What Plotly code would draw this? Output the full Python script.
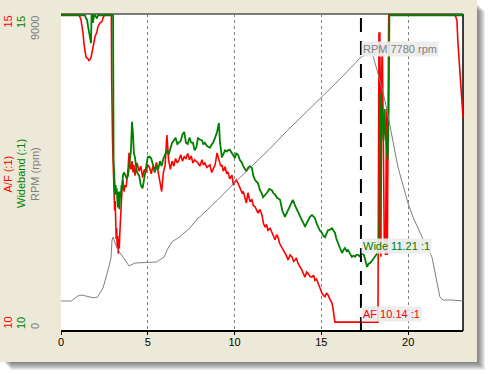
import plotly.graph_objects as go

# ---------------- data ----------------
X_RANGE = [0, 23.16]
X_TICKS = [0, 5, 10, 15, 20]
X_TICK_TEXT = ["0", "5", "10", "15", "20"]

AF_RANGE = [10, 15]
WB_RANGE = [10, 15]
RPM_RANGE = [0, 9000]

AXIS_TITLES = ["A/F (:1)", "Wideband (:1)", "RPM (rpm)"]
AXIS_TOP_LABELS = ["15", "15", "9000"]
AXIS_BOTTOM_LABELS = ["10", "10", "0"]

CURSOR_T = 17.28
CURSOR_LABELS = ["AF 10.14 :1", "Wide 11.21 :1", "RPM 7780 rpm"]
CURSOR_VALUES = [10.14, 11.21, 7780]

AF_TIME = [
    0, 0.5, 1.04, 1.15, 1.21, 1.27, 1.32, 1.38, 1.44, 1.56,
    1.61, 1.73, 1.79, 1.84, 1.96, 2.07, 2.13, 2.25, 2.36, 2.42,
    2.53, 2.88,
    2.90, 2.92, 2.94, 2.97, 3.00, 3.03, 3.06, 3.09, 3.12, 3.15,
    3.18, 3.21, 3.24, 3.27, 3.30, 3.33, 3.36, 3.39, 3.42, 3.45,
    3.48, 3.51, 3.54, 3.57,
    3.63, 3.69, 3.75, 3.80, 3.86, 3.92, 3.97, 4.03, 4.09, 4.15,
    4.20, 4.26, 4.32, 4.38, 4.5, 4.6, 4.7, 4.8, 4.9, 5.0,
    5.1, 5.2, 5.3, 5.4, 5.5, 5.6, 5.7, 5.8, 5.9, 6.0,
    6.1, 6.2, 6.3, 6.4, 6.5, 6.6, 6.7, 6.8, 6.9, 7.0,
    7.1, 7.2, 7.3, 7.4, 7.5, 7.6, 7.7,
    7.8, 7.89, 8.0, 8.12, 8.2, 8.29, 8.4, 8.58, 8.68, 8.76,
    8.88, 8.99, 9.10, 9.2, 9.27, 9.36, 9.45, 9.55, 9.62, 9.72,
    9.85, 9.93, 10.02, 10.1, 10.20, 10.3, 10.43, 10.5, 10.60, 10.68,
    10.77, 10.88, 11.00, 11.08, 11.18, 11.26, 11.35, 11.45, 11.58, 11.66,
    11.75, 11.84, 11.92, 12.05, 12.15, 12.25, 12.33, 12.42, 12.50, 12.6,
    12.73, 12.82, 12.90, 13.0, 13.08, 13.2, 13.31, 13.4, 13.48, 13.56,
    13.65, 13.76, 13.88, 13.97, 14.06, 14.15, 14.23, 14.35, 14.46, 14.55,
    14.63, 14.72, 14.80, 14.92, 15.03, 15.12, 15.21, 15.3, 15.38, 15.5,
    15.61, 15.67, 15.72, 15.78, 18.26,
    18.28, 18.32, 18.37, 18.43, 18.47, 18.51, 18.57, 18.63, 18.70, 18.75,
    18.80, 18.85, 18.88, 22.70, 22.81, 22.87, 22.98, 23.04, 23.10, 23.16,
]
AF_VALUE = [
    14.99, 14.99, 14.99, 14.91, 14.83, 14.7, 14.54, 14.4, 14.32, 14.29,
    14.26, 14.31, 14.39, 14.5, 14.64, 14.72, 14.8, 14.86, 14.88, 14.94,
    14.99, 14.99,
    14.99, 13.96, 13.2, 13.0, 12.7, 12.4, 12.18, 11.9, 12.05, 11.7,
    11.45, 11.62, 11.3, 11.5, 11.22, 11.45, 11.3, 11.55, 11.8, 11.75,
    12.0, 12.2, 12.35, 12.38,
    12.2, 12.3, 12.27, 12.4, 12.54, 12.81, 12.6, 12.55, 12.68, 12.5,
    12.62, 12.45, 12.58, 12.65, 12.52, 12.6, 12.42, 12.55, 12.5, 12.62,
    12.58, 12.48, 12.6, 12.55, 12.66, 12.5, 12.35, 12.2, 12.5, 12.62,
    13.09, 12.7, 12.55, 12.68, 12.6, 12.72, 12.65, 12.7, 12.78, 12.68,
    12.75, 12.72, 12.8, 12.7, 12.76, 12.65, 12.7,
    12.68, 12.65, 12.6, 12.70, 12.62, 12.65, 12.58, 12.62, 12.5, 12.54,
    12.62, 12.81, 12.70, 12.6, 12.62, 12.52, 12.59, 12.48, 12.51, 12.4,
    12.46, 12.3, 12.35, 12.38, 12.33, 12.25, 12.18, 12.2, 12.11, 12.02,
    12.18, 12.05, 12.07, 11.98, 11.96, 11.9, 11.86, 11.92, 11.83, 11.7,
    11.64, 11.68, 11.59, 11.62, 11.55, 11.5, 11.44, 11.52, 11.48, 11.38,
    11.32, 11.28, 11.23, 11.18, 11.12, 11.2, 11.17, 11.1, 11.12, 11.15,
    11.07, 11.02, 10.96, 10.9, 10.85, 10.93, 10.91, 10.86, 10.85, 10.88,
    10.80, 10.82, 10.76, 10.7, 10.6, 10.56, 10.54, 10.6, 10.57, 10.5,
    10.44, 10.36, 10.25, 10.14, 10.14,
    12.2, 14.7, 14.7, 11.17, 14.0, 14.5, 13.0, 11.3, 11.2, 13.5,
    11.2, 13.0, 14.99, 14.99, 14.9, 14.54, 14.1, 13.95, 13.69, 13.37,
]

WB_TIME = [
    0, 1.38, 1.44, 1.50, 1.56, 1.61, 1.67, 1.73, 1.76, 1.79,
    1.84, 1.90, 1.96, 2.07, 2.13, 2.19, 2.88,
    2.90, 2.97, 3.00, 3.03, 3.06, 3.09, 3.12, 3.15, 3.18, 3.21,
    3.24, 3.27, 3.30, 3.33, 3.36, 3.39, 3.42, 3.45, 3.48, 3.51,
    3.54, 3.57,
    3.63, 3.69, 3.75, 3.80, 3.86, 3.92, 3.97, 4.03, 4.09, 4.15,
    4.20, 4.26, 4.32, 4.38, 4.5, 4.6, 4.7, 4.8, 4.9, 5.0,
    5.1, 5.2, 5.3, 5.4, 5.5, 5.6, 5.7, 5.8, 5.9, 6.0,
    6.1, 6.2, 6.3, 6.4, 6.5, 6.6, 6.7, 6.8, 6.9, 7.0,
    7.1, 7.2, 7.3, 7.4, 7.5, 7.6, 7.7,
    7.8, 7.89, 8.0, 8.12, 8.2, 8.29, 8.4, 8.58, 8.68, 8.76,
    8.88, 8.99, 9.10, 9.16, 9.27, 9.36, 9.45, 9.55, 9.62, 9.72,
    9.85, 9.93, 10.02, 10.1, 10.20, 10.3, 10.43, 10.5, 10.60, 10.68,
    10.77, 10.88, 11.00, 11.08, 11.18, 11.26, 11.35, 11.46, 11.55, 11.64,
    11.75, 11.87, 12.0, 12.15, 12.25, 12.33, 12.45, 12.62, 12.75, 12.90,
    13.0, 13.08, 13.2, 13.36, 13.48, 13.59, 13.7, 13.88, 13.97, 14.06,
    14.15, 14.23, 14.35, 14.46, 14.55, 14.63, 14.72, 14.80, 14.92, 15.03,
    15.12, 15.21, 15.3, 15.38, 15.5, 15.61, 15.7, 15.78, 15.87, 15.96,
    16.08, 16.19, 16.28, 16.36, 16.45, 16.53, 16.65, 16.76, 16.85, 16.94,
    17.02, 17.11, 17.2, 17.28, 17.37, 17.45, 17.55, 17.63, 17.72, 17.80,
    17.95, 18.09, 18.2, 18.32,
    18.36, 18.40, 18.46, 18.52, 18.58, 18.64, 18.70, 18.76, 18.82, 18.88,
    18.92, 23.16,
]
WB_VALUE = [
    14.98, 14.98, 14.93, 14.91, 14.8, 14.72, 14.64, 14.54, 14.98, 14.98,
    14.86, 14.98, 14.98, 14.93, 14.98, 14.98, 14.98,
    14.98, 14.98, 14.98, 12.7, 12.5, 12.27, 12.15, 12.3, 12.2, 12.25,
    12.05, 11.95, 12.05, 12.2, 11.92, 12.05, 12.2, 12.12, 12.3, 12.22,
    12.38, 12.46,
    12.5, 12.46, 12.43, 12.4, 12.45, 12.65, 12.7, 12.85, 13.3, 13.1,
    12.8, 12.74, 12.6, 12.5, 12.45, 12.3, 12.25, 12.4, 12.55, 12.74,
    12.75, 12.72, 12.62, 12.5, 12.6, 12.55, 12.68, 12.6, 12.72, 12.8,
    12.85, 12.78, 12.9, 12.97, 13.0, 13.05, 12.95, 12.98, 13.0, 13.1,
    13.14, 12.97, 12.95, 13.05, 12.97, 12.97, 12.85,
    12.9, 13.04, 13.02, 13.01, 12.95, 12.97, 12.92, 12.89, 12.94, 12.97,
    13.05, 13.14, 13.28, 12.97, 12.74, 12.8, 12.85, 12.83, 12.85, 12.86,
    12.81, 12.76, 12.73, 12.8, 12.78, 12.7, 12.65, 12.6, 12.54, 12.52,
    12.57, 12.6, 12.57, 12.45, 12.38, 12.35, 12.33, 12.22, 12.18, 12.11,
    12.14, 12.18, 12.24, 12.22, 12.17, 12.15, 12.1, 12.07, 11.9, 11.80,
    11.86, 11.91, 11.98, 12.07, 11.98, 11.91, 11.84, 11.75, 11.7, 11.64,
    11.7, 11.75, 11.8, 11.83, 11.8, 11.78, 11.7, 11.64, 11.58, 11.55,
    11.5, 11.48, 11.55, 11.59, 11.6, 11.62, 11.58, 11.55, 11.45, 11.39,
    11.3, 11.23, 11.28, 11.31, 11.26, 11.28, 11.22, 11.17, 11.19, 11.17,
    11.2, 11.2, 11.18, 11.21, 11.22, 11.2, 11.1, 11.01, 11.06, 11.07,
    11.12, 11.17, 11.22, 11.32,
    12.0, 13.75, 13.6, 13.4, 13.0, 13.5, 13.1, 12.85, 12.7, 13.5,
    14.98, 14.98,
]

RPM_TIME = [
    0, 0.6, 0.95, 1.2, 1.45, 1.85, 2.1, 2.25, 2.42, 2.71,
    2.88, 2.94, 3.0, 3.15, 3.40, 3.69, 3.92, 4.26, 5.5, 5.95,
    6.11, 6.39, 6.74, 7.43, 7.89, 8.0, 9.0, 10.0, 11.0, 12.0,
    13.0, 14.0, 15.0, 16.0, 17.0, 17.28, 17.92, 18.55, 18.78, 19.07,
    19.41, 19.99, 20.28, 20.80, 21.37, 21.83, 22.0, 22.52, 23.16,
]
RPM_VALUE = [
    852, 852, 990, 1022, 990, 945, 960, 1079, 1221, 1732,
    2072, 2583, 2669, 2450, 2214, 2016, 1845, 1930, 1959, 2100,
    2300, 2527, 2640, 2924, 3208, 3240, 3710, 4210, 4690, 5160,
    5670, 6150, 6650, 7120, 7630, 7780, 7920, 6785, 6274, 5508,
    4656, 3634, 3236, 2669, 2101, 965, 880, 880, 852,
]

assert len(AF_TIME) == len(AF_VALUE)
assert len(WB_TIME) == len(WB_VALUE)
assert len(RPM_TIME) == len(RPM_VALUE)

# ---------------- styling / layout ----------------
W, H = 488, 374
PL, PR, PT, PB = 61, 463, 14, 331          # plot-area pixel bounds
FONT = "Liberation Sans, Arial, sans-serif"
RED, GREEN, GRAY = "#FF0000", "#008000", "#808080"
BEIGE = "#ECE9D8"


def fx(p):
    return (p - PL) / (PR - PL)


def fy(p):
    return (PB - p) / (PB - PT)


fig = go.Figure()
fig.add_trace(go.Scatter(x=RPM_TIME, y=RPM_VALUE, yaxis="y3", mode="lines",
                         line=dict(color=GRAY, width=1), hoverinfo="skip"))
fig.add_trace(go.Scatter(x=AF_TIME, y=AF_VALUE, yaxis="y", mode="lines",
                         line=dict(color=RED, width=1.6), hoverinfo="skip"))
fig.add_trace(go.Scatter(x=WB_TIME, y=WB_VALUE, yaxis="y2", mode="lines",
                         line=dict(color=GREEN, width=1.8), hoverinfo="skip"))

shapes = []
# drop shadow
for k in range(1, 9):
    shapes.append(dict(type="rect", xref="paper", yref="paper",
                       x0=fx(3 + k), x1=fx(477 + k), y0=fy(362 + k), y1=fy(3 + k),
                       fillcolor="rgba(0,0,0,0.075)", line=dict(width=0), layer="below"))
# beige panel
shapes.append(dict(type="rect", xref="paper", yref="paper",
                   x0=fx(0), x1=fx(477), y0=fy(362), y1=fy(0),
                   fillcolor=BEIGE, line=dict(width=0), layer="below"))
# white plot area
shapes.append(dict(type="rect", xref="paper", yref="paper", x0=0, x1=1, y0=0, y1=1,
                   fillcolor="white", line=dict(width=0), layer="below"))
# frame (top, right, bottom)
shapes.append(dict(type="line", xref="paper", yref="paper", x0=0, x1=1, y0=1, y1=1,
                   line=dict(color="black", width=1), layer="below"))
shapes.append(dict(type="line", xref="paper", yref="paper", x0=1, x1=1, y0=0, y1=1,
                   line=dict(color="black", width=1.5), layer="below"))
shapes.append(dict(type="line", xref="paper", yref="paper", x0=0, x1=1, y0=0, y1=0,
                   line=dict(color="black", width=2), layer="above"))
# cursor
shapes.append(dict(type="line", xref="x", yref="paper", x0=CURSOR_T, x1=CURSOR_T,
                   y0=0, y1=1, line=dict(color="black", width=2, dash="14px,9px"),
                   layer="above"))

annotations = []
colors = [RED, GREEN, GRAY]
label_x_px = [7.5, 21, 35]
for i in range(3):
    xp = fx(label_x_px[i])
    annotations.append(dict(text=AXIS_TOP_LABELS[i], xref="paper", yref="paper",
                            x=xp, y=1, xanchor="center", yanchor="top",
                            textangle=-90, showarrow=False,
                            font=dict(family=FONT, size=11, color=colors[i])))
    annotations.append(dict(text=AXIS_BOTTOM_LABELS[i], xref="paper", yref="paper",
                            x=xp, y=0, xanchor="center", yanchor="bottom",
                            textangle=-90, showarrow=False,
                            font=dict(family=FONT, size=11, color=colors[i])))
    annotations.append(dict(text=AXIS_TITLES[i], xref="paper", yref="paper",
                            x=xp, y=fy(174), xanchor="center", yanchor="middle",
                            textangle=-90, showarrow=False,
                            font=dict(family=FONT, size=11, color=colors[i])))

cursor_axes = ["y", "y2", "y3"]
for i in range(3):
    annotations.append(dict(text=CURSOR_LABELS[i], xref="x", yref=cursor_axes[i],
                            x=CURSOR_T, y=CURSOR_VALUES[i], xanchor="left",
                            yanchor="bottom", showarrow=False,
                            bgcolor="rgba(236,236,236,0.92)", borderpad=1,
                            font=dict(family=FONT, size=11, color=colors[i])))

fig.update_layout(
    width=W, height=H,
    margin=dict(l=PL, r=W - PR, t=PT, b=H - PB, pad=0),
    paper_bgcolor="white", plot_bgcolor="white",
    showlegend=False, hovermode=False,
    font=dict(family=FONT, size=11, color="black"),
    xaxis=dict(range=X_RANGE, tickvals=X_TICKS, ticktext=X_TICK_TEXT,
               showgrid=True, gridcolor=GRAY, gridwidth=1, griddash="3px,3px",
               zeroline=False, showline=False, ticks="outside", ticklen=3,
               ticklabelstandoff=-2,
               tickcolor="black", tickfont=dict(family=FONT, size=11, color="black")),
    yaxis=dict(range=AF_RANGE, visible=False, showgrid=False, zeroline=False),
    yaxis2=dict(range=WB_RANGE, overlaying="y", visible=False, showgrid=False,
                zeroline=False),
    yaxis3=dict(range=RPM_RANGE, overlaying="y", visible=False, showgrid=False,
                zeroline=False),
    shapes=shapes, annotations=annotations,
)

fig.write_html("out.html")
